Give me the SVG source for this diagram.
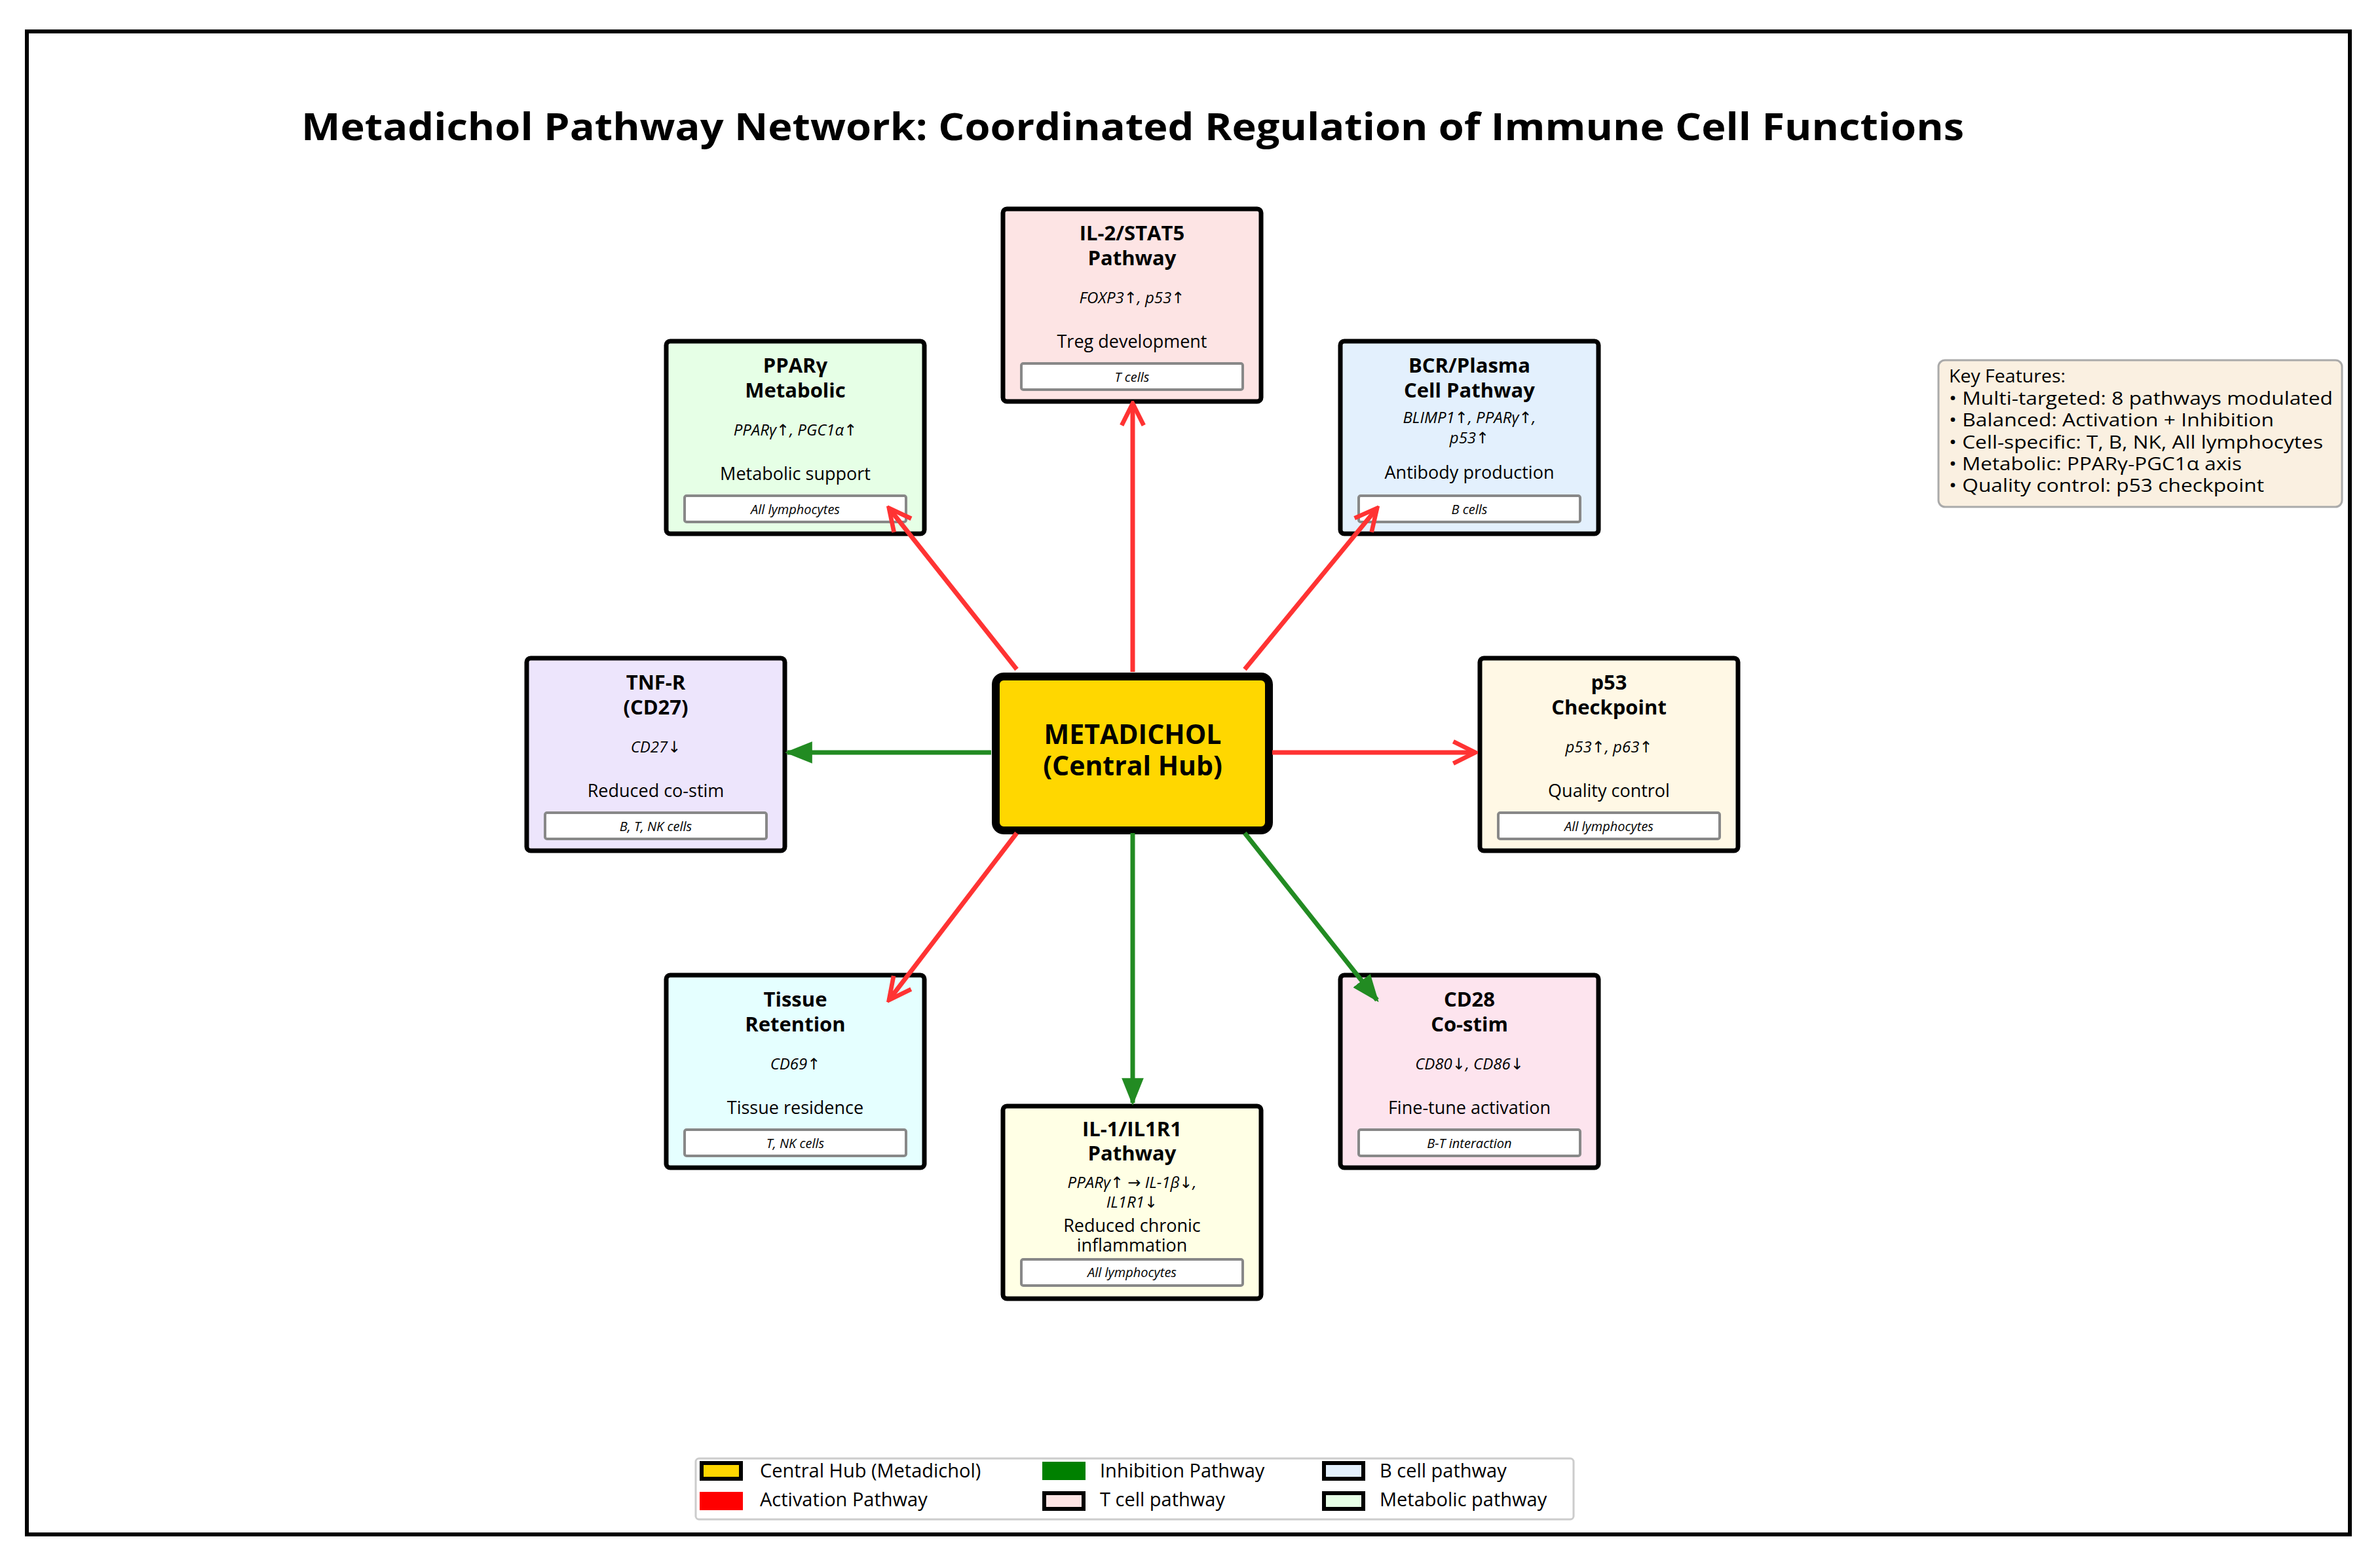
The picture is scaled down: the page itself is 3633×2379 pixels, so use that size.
<svg xmlns="http://www.w3.org/2000/svg" width="3633" height="2379" viewBox="0 0 3633 2379">
<style>
text{font-family:"Open Sans","DejaVu Sans",sans-serif;fill:#000}
.nb{stroke:#000;stroke-width:7}
.t{font-weight:bold;font-size:31px;text-anchor:middle}
.g{font-style:italic;font-size:24px;text-anchor:middle}
.f{font-size:27px;text-anchor:middle}
.tag{fill:#fff;stroke:#888;stroke-width:4}
.tt{font-style:italic;font-size:20px;text-anchor:middle}
.act{stroke:#FF3333;stroke-width:7;fill:none}
.inh{stroke:#228B22;stroke-width:7;fill:none}
.k{font-size:27px}
.l{font-size:29px}
</style>
<defs>
<marker id="ao" viewBox="0 0 10 10" refX="9" refY="5" markerWidth="6" markerHeight="6" markerUnits="strokeWidth" orient="auto"><path d="M1,1 L9,5 L1,9" fill="none" stroke="#FF3333" stroke-width="1.6"/></marker>
<marker id="gf" viewBox="0 0 10 10" refX="9" refY="5" markerWidth="6" markerHeight="6" markerUnits="strokeWidth" orient="auto"><path d="M0,1 L10,5 L0,9 Z" fill="#228B22"/></marker>
</defs>
<rect width="3633" height="2379" fill="#fff"/>
<rect x="41" y="48" width="3546" height="2295" fill="none" stroke="#000" stroke-width="6"/>
<text x="460" y="214" font-size="58" font-weight="bold" textLength="2538" lengthAdjust="spacingAndGlyphs">Metadichol Pathway Network: Coordinated Regulation of Immune Cell Functions</text>

<g id="hub">
<rect x="1520" y="1033" width="417" height="235" rx="12" fill="#FFD700" stroke="#000" stroke-width="12"/>
<text x="1729" y="1136" font-size="41" font-weight="bold" text-anchor="middle">METADICHOL</text>
<text x="1729" y="1184" font-size="41" font-weight="bold" text-anchor="middle">(Central Hub)</text>
</g>

<g id="il2" transform="translate(1531,319)">
<rect class="nb" width="394" height="294" rx="6" fill="#FDE4E4"/>
<text class="t" x="197" y="48">IL-2/STAT5</text><text class="t" x="197" y="86">Pathway</text>
<text class="g" x="197" y="144">FOXP3↑, p53↑</text>
<text class="f" x="197" y="212">Treg development</text>
<rect class="tag" x="28" y="236" width="338" height="40" rx="3"/><text class="tt" x="197" y="264">T cells</text>
</g>

<g id="ppar" transform="translate(1017,521)">
<rect class="nb" width="394" height="294" rx="6" fill="#E6FFE6"/>
<text class="t" x="197" y="48">PPARγ</text><text class="t" x="197" y="86">Metabolic</text>
<text class="g" x="197" y="144">PPARγ↑, PGC1α↑</text>
<text class="f" x="197" y="212">Metabolic support</text>
<rect class="tag" x="28" y="236" width="338" height="40" rx="3"/><text class="tt" x="197" y="264">All lymphocytes</text>
</g>

<g id="bcr" transform="translate(2046,521)">
<rect class="nb" width="394" height="294" rx="6" fill="#E3F0FD"/>
<text class="t" x="197" y="48">BCR/Plasma</text><text class="t" x="197" y="86">Cell Pathway</text>
<text class="g" x="197" y="125">BLIMP1↑, PPARγ↑,</text><text class="g" x="197" y="156">p53↑</text>
<text class="f" x="197" y="210">Antibody production</text>
<rect class="tag" x="28" y="236" width="338" height="40" rx="3"/><text class="tt" x="197" y="264">B cells</text>
</g>

<g id="tnfr" transform="translate(804,1005)">
<rect class="nb" width="394" height="294" rx="6" fill="#EDE5FC"/>
<text class="t" x="197" y="48">TNF-R</text><text class="t" x="197" y="86">(CD27)</text>
<text class="g" x="197" y="144">CD27↓</text>
<text class="f" x="197" y="212">Reduced co-stim</text>
<rect class="tag" x="28" y="236" width="338" height="40" rx="3"/><text class="tt" x="197" y="264">B, T, NK cells</text>
</g>

<g id="p53" transform="translate(2259,1005)">
<rect class="nb" width="394" height="294" rx="6" fill="#FFF8E5"/>
<text class="t" x="197" y="48">p53</text><text class="t" x="197" y="86">Checkpoint</text>
<text class="g" x="197" y="144">p53↑, p63↑</text>
<text class="f" x="197" y="212">Quality control</text>
<rect class="tag" x="28" y="236" width="338" height="40" rx="3"/><text class="tt" x="197" y="264">All lymphocytes</text>
</g>

<g id="tissue" transform="translate(1017,1489)">
<rect class="nb" width="394" height="294" rx="6" fill="#E5FFFF"/>
<text class="t" x="197" y="48">Tissue</text><text class="t" x="197" y="86">Retention</text>
<text class="g" x="197" y="144">CD69↑</text>
<text class="f" x="197" y="212">Tissue residence</text>
<rect class="tag" x="28" y="236" width="338" height="40" rx="3"/><text class="tt" x="197" y="264">T, NK cells</text>
</g>

<g id="cd28" transform="translate(2046,1489)">
<rect class="nb" width="394" height="294" rx="6" fill="#FDE4EE"/>
<text class="t" x="197" y="48">CD28</text><text class="t" x="197" y="86">Co-stim</text>
<text class="g" x="197" y="144">CD80↓, CD86↓</text>
<text class="f" x="197" y="212">Fine-tune activation</text>
<rect class="tag" x="28" y="236" width="338" height="40" rx="3"/><text class="tt" x="197" y="264">B-T interaction</text>
</g>

<g id="il1" transform="translate(1531,1689)">
<rect class="nb" width="394" height="294" rx="6" fill="#FFFFE5"/>
<text class="t" x="197" y="46">IL-1/IL1R1</text><text class="t" x="197" y="83">Pathway</text>
<text class="g" x="197" y="125">PPARγ↑ → IL-1β↓,</text><text class="g" x="197" y="155">IL1R1↓</text>
<text class="f" x="197" y="192">Reduced chronic</text><text class="f" x="197" y="222">inflammation</text>
<rect class="tag" x="28" y="234" width="338" height="40" rx="3"/><text class="tt" x="197" y="261">All lymphocytes</text>
</g>

<g id="connectors">
<line class="act" x1="1729" y1="1026" x2="1729" y2="616" marker-end="url(#ao)"/>
<line class="act" x1="1552" y1="1022" x2="1357" y2="776" marker-end="url(#ao)"/>
<line class="act" x1="1900" y1="1022" x2="2102" y2="776" marker-end="url(#ao)"/>
<line class="act" x1="1942" y1="1149" x2="2252" y2="1149" marker-end="url(#ao)"/>
<line class="inh" x1="1513" y1="1149" x2="1202" y2="1149" marker-end="url(#gf)"/>
<line class="act" x1="1552" y1="1272" x2="1357" y2="1527" marker-end="url(#ao)"/>
<line class="inh" x1="1900" y1="1272" x2="2102" y2="1527" marker-end="url(#gf)"/>
<line class="inh" x1="1729" y1="1272" x2="1729" y2="1684" marker-end="url(#gf)"/>
</g>

<g id="keyfeatures">
<rect x="2959" y="550" width="616" height="224" rx="10" fill="#FAF0E1" stroke="#aaa" stroke-width="3"/>
<text class="k" x="2975" y="584" textLength="178" lengthAdjust="spacingAndGlyphs">Key Features:</text>
<text class="k" x="2975" y="618" textLength="586" lengthAdjust="spacingAndGlyphs">• Multi-targeted: 8 pathways modulated</text>
<text class="k" x="2975" y="651" textLength="496" lengthAdjust="spacingAndGlyphs">• Balanced: Activation + Inhibition</text>
<text class="k" x="2975" y="685" textLength="571" lengthAdjust="spacingAndGlyphs">• Cell-specific: T, B, NK, All lymphocytes</text>
<text class="k" x="2975" y="718" textLength="447" lengthAdjust="spacingAndGlyphs">• Metabolic: PPARγ-PGC1α axis</text>
<text class="k" x="2975" y="751" textLength="481" lengthAdjust="spacingAndGlyphs">• Quality control: p53 checkpoint</text>
</g>

<g id="legend">
<rect x="1062" y="2227" width="1340" height="93" rx="5" fill="#fff" stroke="#ccc" stroke-width="3"/>
<rect x="1071" y="2234" width="60" height="24" fill="#FFD700" stroke="#000" stroke-width="6"/>
<text class="l" x="1160" y="2256">Central Hub (Metadichol)</text>
<rect x="1068" y="2278" width="66" height="28" fill="#FF0000"/>
<text class="l" x="1160" y="2300">Activation Pathway</text>
<rect x="1591" y="2232" width="66" height="28" fill="#008000"/>
<text class="l" x="1679" y="2256">Inhibition Pathway</text>
<rect x="1594" y="2280" width="60" height="24" fill="#FDE4E4" stroke="#000" stroke-width="6"/>
<text class="l" x="1679" y="2300">T cell pathway</text>
<rect x="2021" y="2234" width="60" height="24" fill="#E3F0FD" stroke="#000" stroke-width="6"/>
<text class="l" x="2106" y="2256">B cell pathway</text>
<rect x="2021" y="2280" width="60" height="24" fill="#E6FFE6" stroke="#000" stroke-width="6"/>
<text class="l" x="2106" y="2300">Metabolic pathway</text>
</g>
</svg>
